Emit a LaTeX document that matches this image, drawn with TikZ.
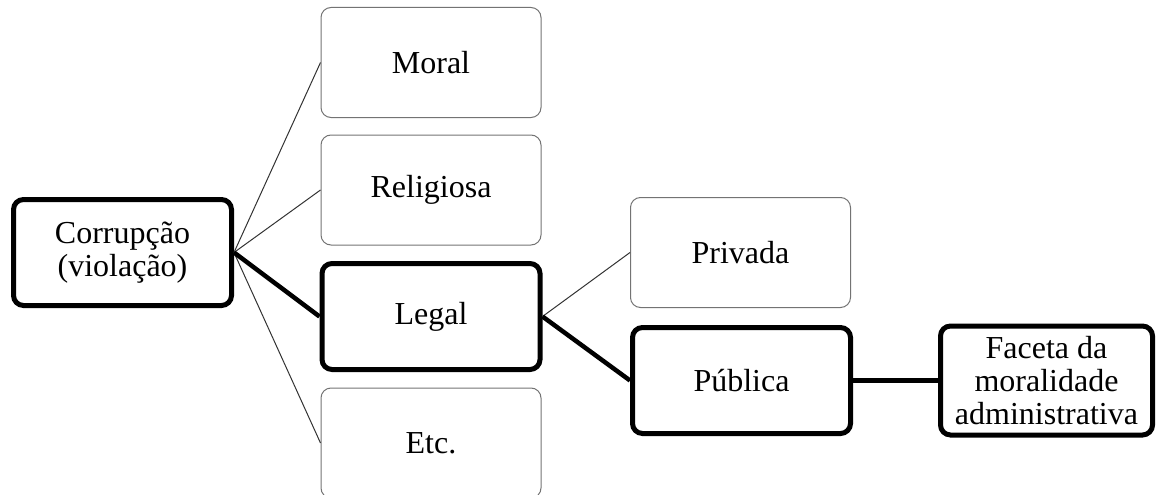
\documentclass[tikz,border=0pt]{standalone}
\usepackage{fontspec}
\setmainfont{Liberation Serif}
\usepackage{tikz}
\usetikzlibrary{positioning,calc}

\begin{document}
\begin{tikzpicture}[x=1pt,y=-1pt,
    leaf/.style={draw=black!55, line width=1pt, rounded corners=10pt, minimum width=220pt, minimum height=110pt, inner sep=0pt, align=center, font=\fontsize{32}{33}\selectfont},
    main/.style={leaf, draw=black, line width=5pt, minimum width=218pt, minimum height=106pt},
    thin link/.style={draw=black!80, line width=1pt},
    thick link/.style={draw=black, line width=4.5pt}]
    \useasboundingbox (0,0) rectangle (1157,495);
    \node [main] (corr) at (122.5,252.5) {Corrupção\\(violação)};
    \node [leaf] (moral) at (431,62.5) {Moral};
    \node [leaf] (relig) at (431,190) {Religiosa};
    \node [main] (legal) at (431,316.5) {Legal};
    \node [leaf] (etc) at (431,443) {Etc.};
    \node [leaf] (priv) at (740.5,252.5) {Privada};
    \node [main] (publ) at (741.5,380.5) {Pública};
    \node [main, minimum width=212pt, minimum height=109pt] (faceta) at (1046.5,380.5) {Faceta da\\moralidade\\administrativa};
    \draw [thin link] (corr.east) -- (moral.west);
    \draw [thin link] (corr.east) -- (relig.west);
    \draw [thin link] (corr.east) -- (etc.west);
    \draw [thick link] (corr.east) -- (legal.west);
    \draw [thin link] (legal.east) -- (priv.west);
    \draw [thick link] (legal.east) -- (publ.west);
    \draw [thick link] (publ.east) -- (faceta.west);
\end{tikzpicture}
\end{document}
